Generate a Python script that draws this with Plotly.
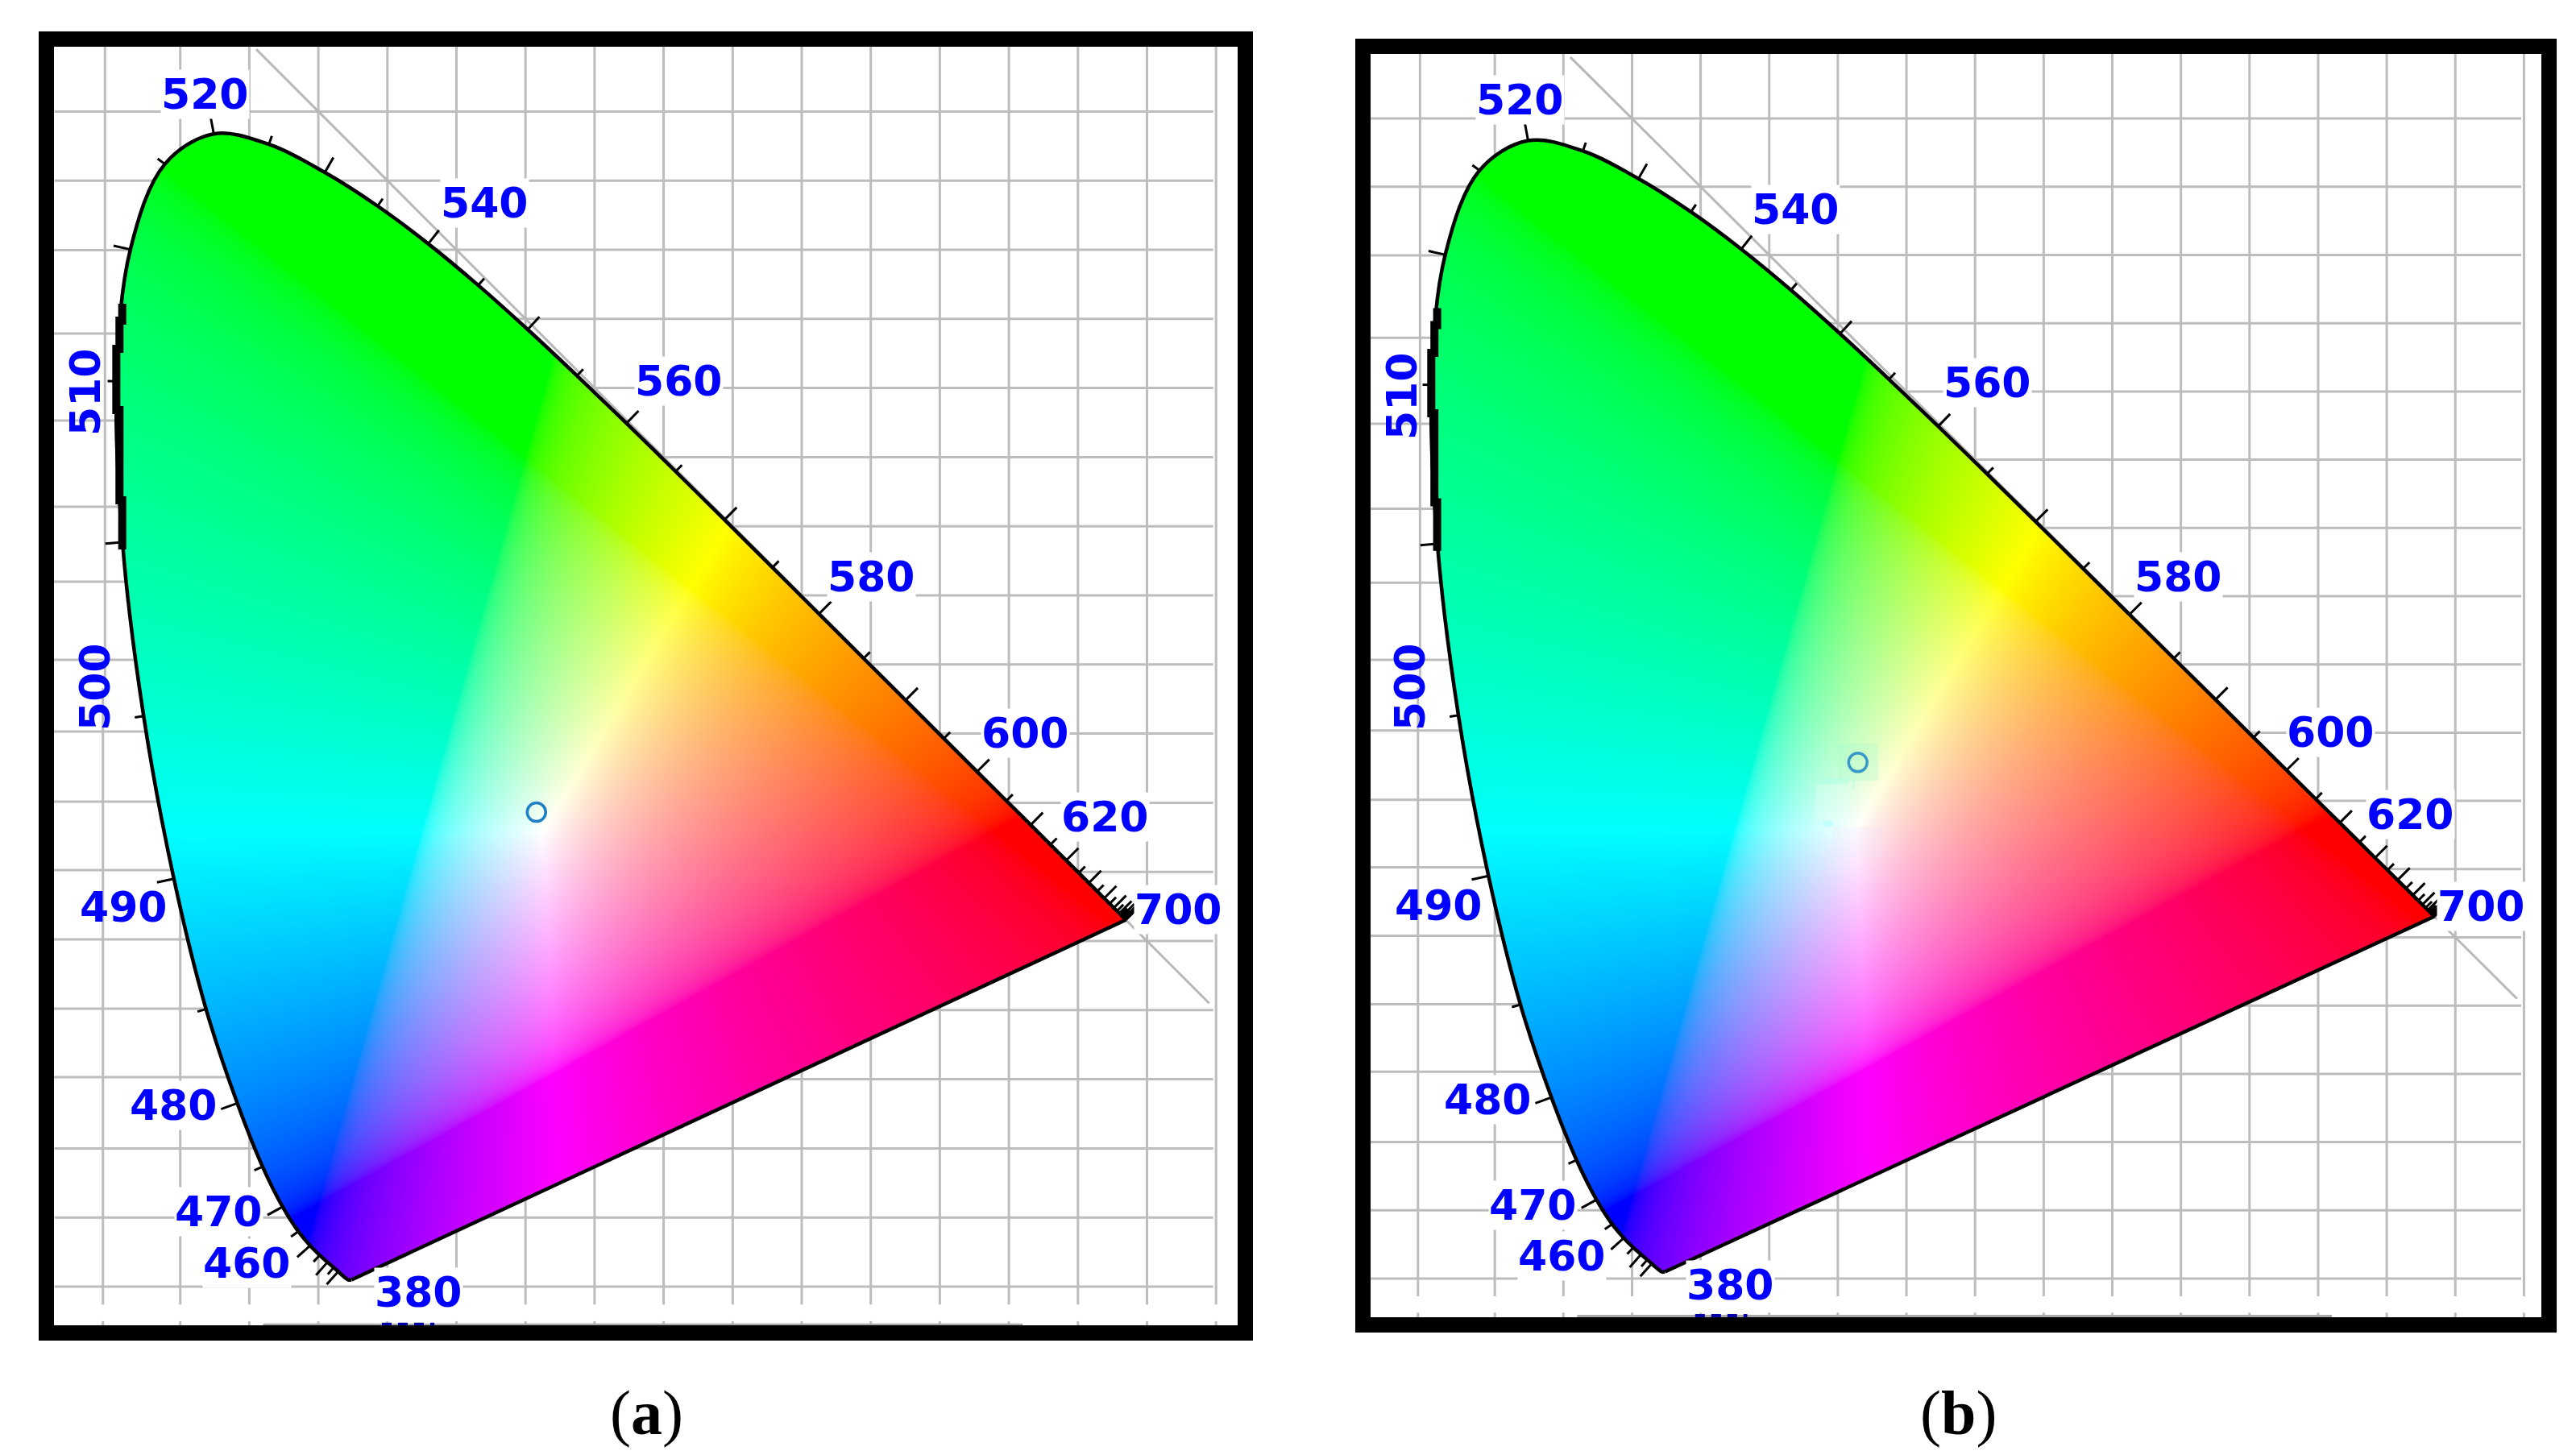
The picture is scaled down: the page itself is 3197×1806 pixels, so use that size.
import base64
import struct
import zlib

import numpy as np
import plotly.graph_objects as go

W = 3197
H = 1806

# spectral locus
WAVELENGTHS = list(range(380, 705, 5))
LOCUS_X = [.1741, .1740, .1738, .1736, .1733, .1730, .1726, .1721, .1714, .1703, .1689, .1669, .1644,
           .1611, .1566, .1510, .1440, .1355, .1241, .1096, .0913, .0687, .0454, .0235, .0082, .0039,
           .0139, .0389, .0743, .1142, .1547, .1929, .2296, .2658, .3016, .3373, .3731, .4087, .4441,
           .4788, .5125, .5448, .5752, .6029, .6270, .6482, .6658, .6801, .6915, .7006, .7079, .7140,
           .7190, .7230, .7260, .7283, .7300, .7311, .7320, .7327, .7334, .7340, .7344, .7346, .7347]
LOCUS_Y = [.0050, .0050, .0049, .0049, .0048, .0048, .0048, .0048, .0051, .0058, .0069, .0086, .0109,
           .0138, .0177, .0227, .0297, .0399, .0578, .0868, .1327, .2007, .2950, .4127, .5384, .6548,
           .7502, .8120, .8338, .8262, .8059, .7816, .7543, .7243, .6923, .6589, .6245, .5896, .5547,
           .5202, .4866, .4544, .4242, .3965, .3725, .3514, .3340, .3197, .3083, .2993, .2920, .2859,
           .2809, .2770, .2740, .2717, .2700, .2689, .2680, .2673, .2666, .2660, .2656, .2654, .2653]

# grid lines
GRID_X = [.05, .10, .15, .20, .25, .30, .35, .40, .45, .50, .55, .60, .65, .70, .75, .80]
GRID_Y_RIGHT = [.85, .80, .75, .70, .65, .60, .55, .50, .45, .40, .35, .30, .25, .20, .15, .10, .05, 0]
GRID_Y_LEFT = [.7497, .6894, .6264, .5641, .5099, .4534, .4015, .3508, .3013, .2512, .2010, .1515]

# stepped thick part of the locus around 505 nm
THICK_X = [.0080, .0060, .0037, .0060, .0080, .0080]
THICK_Y = [.7110, .6987, .6783, .6340, .5688, .5332]

POINT_X = {"a": .3079, "b": .3146}
POINT_Y = {"a": .3432, "b": .3782}

LABELS = ["520", "540", "560", "580", "600", "620", "700", "510", "500", "490", "480", "470", "460", "380"]
LABEL_X = {"a": [254, 601, 842, 1081, 1272, 1371, 1462, 106, 118, 153, 215, 271, 306, 519],
           "b": [1886, 2228, 2466, 2703, 2892, 2991, 3079, 1740, 1750, 1785, 1846, 1902, 1938, 2147]}
LABEL_Y = {"a": [117, 252, 473, 716, 910, 1014, 1129, 487, 853, 1126, 1372, 1504, 1568, 1604],
           "b": [124, 260, 475, 716, 909, 1011, 1125, 492, 853, 1124, 1365, 1496, 1559, 1595]}
ROTATED = ["510", "500"]
NO_MASK = ["510", "500", "490"]

# faint compression squares around the point in (b)
PATCH_X0 = [2281, 2253, 2260, 2263, 2299, 2274]
PATCH_X1 = [2331, 2295, 2295, 2274, 2302, 2337]
PATCH_Y0 = [923, 973, 966, 1019, 966, 1026]
PATCH_Y1 = [969, 1019, 973, 1026, 980, 1064]
PATCH_COLOR = ["rgba(150,245,200,.22)", "rgba(235,255,250,.25)", "rgba(170,255,235,.40)",
               "rgba(170,255,255,.50)", "rgba(170,250,220,.40)", "rgba(235,225,250,.18)"]

# pixel layout of the two panels: inner frame, position of (0,0), pixels per unit
PANELS = {
    "a": dict(left=67, right=1536, top=58, bottom=1645, x0=138, y0=1597, sx=1714, sy=1716, axes=("", "2", "3", "4")),
    "b": dict(left=1701, right=3154, top=67, bottom=1635, x0=1770, y0=1587, sx=1703, sy=1694, axes=("5", "6", "7", "8")),
}

SRGB = np.array([[3.2406, -1.5372, -0.4986], [-0.9689, 1.8758, 0.0415], [0.0557, -0.2040, 1.0570]])
GRID_COLOR = "#bdbdbd"
BLUE = "#0000ff"


def make_png(rgba):
    h, w, _ = rgba.shape
    raw = np.zeros((h, w * 4 + 1), dtype=np.uint8)
    raw[:, 1:] = rgba.reshape(h, w * 4)

    def chunk(tag, body):
        return struct.pack(">I", len(body)) + tag + body + struct.pack(">I", zlib.crc32(tag + body))

    data = (b"\x89PNG\r\n\x1a\n"
            + chunk(b"IHDR", struct.pack(">IIBBBBB", w, h, 8, 6, 0, 0, 0))
            + chunk(b"IDAT", zlib.compress(raw.tobytes(), 6))
            + chunk(b"IEND", b""))
    return "data:image/png;base64," + base64.b64encode(data).decode()


def mask_outline():
    # rounder outline for the colour mask only, so it follows the spline drawn on top
    x = np.array(LOCUS_X)
    y = np.array(LOCUS_Y)
    out_x, out_y = [], []
    for i in range(len(x) - 1):
        a = max(i - 1, 0)
        d = min(i + 2, len(x) - 1)
        for t in np.linspace(0, 1, 8, endpoint=False):
            for src, out in ((x, out_x), (y, out_y)):
                p0, p1, p2, p3 = src[a], src[i], src[i + 1], src[d]
                out.append(.5 * (2 * p1 + (p2 - p0) * t + (2 * p0 - 5 * p1 + 4 * p2 - p3) * t ** 2
                                 + (3 * p1 - p0 - 3 * p2 + p3) * t ** 3))
    out_x.append(x[-1])
    out_y.append(y[-1])
    return np.array(out_x), np.array(out_y)


def inside_locus(x, y):
    px, py = mask_outline()
    inside = np.zeros(x.shape, dtype=bool)
    for i in range(len(px)):
        x1, y1 = px[i], py[i]
        x2, y2 = px[i - 1], py[i - 1]
        if y1 == y2:
            continue
        low, high = min(y1, y2), max(y1, y2)
        rows = (y[:, 0] > low) & (y[:, 0] <= high)
        if not rows.any():
            continue
        inside[rows] ^= x[rows] < (x2 - x1) * (y[rows] - y1) / (y2 - y1) + x1
    return inside


def chromaticity_source(p):
    # one image pixel per screen pixel, bottom row first
    xs = np.arange(-.005, .745, 1 / p["sx"])
    ys = np.arange(-.005, .845, 1 / p["sy"])
    gx, gy = np.meshgrid(xs, ys)
    safe_y = np.maximum(gy, 1e-3)
    xyz = np.stack([gx / safe_y, np.ones_like(gx), (1 - gx - gy) / safe_y], axis=-1)
    rgb = np.clip(xyz @ SRGB.T, 0, None)
    rgb = rgb / np.maximum(rgb.max(axis=-1, keepdims=True), 1e-6)
    rgb = np.where(rgb <= .0031308, 12.92 * rgb, 1.055 * rgb ** (1 / 2.4) - .055)
    rgba = np.zeros(gx.shape + (4,), dtype=np.uint8)
    rgba[..., :3] = np.round(rgb * 255).astype(np.uint8)
    rgba[..., 3] = inside_locus(gx, gy) * 255
    return make_png(rgba), xs[0], ys[0], 1 / p["sx"], 1 / p["sy"]


def segments(pairs):
    xs, ys = [], []
    for (x1, y1), (x2, y2) in pairs:
        xs += [x1, x2, None]
        ys += [y1, y2, None]
    return xs, ys


def locus_ticks():
    x = np.array(LOCUS_X)
    y = np.array(LOCUS_Y)
    dx = np.gradient(x)
    dy = np.gradient(y)
    pairs = []
    for i, wl in enumerate(WAVELENGTHS):
        if wl < 440:
            continue
        norm = np.hypot(dx[i], dy[i]) or 1
        length = .0125 if wl % 10 == 0 else .0065
        pairs.append(((x[i], y[i]), (x[i] - dy[i] / norm * length, y[i] + dx[i] / norm * length)))
    return segments(pairs)


fig = go.Figure()
layout_axes = {}
annotations = []

for key, p in PANELS.items():
    ax_x, ax_y, over_x, over_y = p["axes"]
    x_range = [(p["left"] - p["x0"]) / p["sx"], (p["right"] - p["x0"]) / p["sx"]]
    y_range = [(p["y0"] - p["bottom"]) / p["sy"], (p["y0"] - p["top"]) / p["sy"]]
    dom_x = [p["left"] / W, p["right"] / W]
    dom_y = [1 - p["bottom"] / H, 1 - p["top"] / H]
    frame = dict(showgrid=False, zeroline=False, showticklabels=False, ticks="", showline=True,
                 linecolor="black", linewidth=19, mirror=True, layer="below traces")
    plain = dict(showgrid=False, zeroline=False, showticklabels=False, ticks="", showline=False)
    layout_axes["xaxis" + ax_x] = dict(domain=dom_x, range=x_range, anchor="y" + ax_y, **frame)
    layout_axes["yaxis" + ax_y] = dict(domain=dom_y, range=y_range, anchor="x" + ax_x, **frame)
    layout_axes["xaxis" + over_x] = dict(domain=dom_x, range=x_range, anchor="y" + over_y, overlaying="x" + ax_x, **plain)
    layout_axes["yaxis" + over_y] = dict(domain=dom_y, range=y_range, anchor="x" + over_x, overlaying="y" + ax_y, **plain)

    # grid sits on the lower axes so the colour field covers it
    pairs = []
    for gx in GRID_X:
        pairs.append(((gx, .899), (gx, -.013)))
        pairs.append(((gx, -.025), (gx, -.032)))
    pairs.append(((-.0045, .899), (-.0045, .433)))
    pairs.append(((-.0060, .433), (-.0060, -.013)))
    pairs.append(((-.0060, -.025), (-.0060, -.032)))
    for gy in GRID_Y_RIGHT:
        start = -.041 if gy >= .8 or gy < .11 else .1
        pairs.append(((start, gy), (.798, gy)))
    for gy in GRID_Y_LEFT:
        pairs.append(((-.043, gy), (.1, gy)))
    gx_line, gy_line = segments(pairs)
    fig.add_trace(go.Scatter(x=gx_line, y=gy_line, mode="lines", line=dict(color=GRID_COLOR, width=3),
                             cliponaxis=False, hoverinfo="skip", showlegend=False,
                             xaxis="x" + ax_x, yaxis="y" + ax_y))
    # x + y = 1
    fig.add_trace(go.Scatter(x=[.105, .795], y=[.895, .205], mode="lines", line=dict(color="#b8b8b8", width=3),
                             hoverinfo="skip", showlegend=False, xaxis="x" + ax_x, yaxis="y" + ax_y))
    fig.add_trace(go.Scatter(x=[.11, .66], y=[-.0275, -.0275], mode="lines", line=dict(color="#a8a8a8", width=3),
                             cliponaxis=False, hoverinfo="skip", showlegend=False, xaxis="x" + ax_x, yaxis="y" + ax_y))
    # top of a label cut off by the frame
    fig.add_trace(go.Scatter(x=[.196, .234], y=[-.0272, -.0272], mode="lines",
                             line=dict(color="#0000a8", width=4, dash="12px,8px"),
                             cliponaxis=False, hoverinfo="skip", showlegend=False, xaxis="x" + ax_x, yaxis="y" + ax_y))

    source, img_x0, img_y0, img_dx, img_dy = chromaticity_source(p)
    fig.add_trace(go.Image(source=source, x0=img_x0, y0=img_y0, dx=img_dx, dy=img_dy, hoverinfo="skip",
                           xaxis="x" + over_x, yaxis="y" + over_y))

    tx, ty = locus_ticks()
    fig.add_trace(go.Scatter(x=tx, y=ty, mode="lines", line=dict(color="black", width=3), hoverinfo="skip",
                             showlegend=False, xaxis="x" + over_x, yaxis="y" + over_y))
    fig.add_trace(go.Scatter(x=LOCUS_X, y=LOCUS_Y, mode="lines",
                             line=dict(color="black", width=4.5, shape="spline", smoothing=1), hoverinfo="skip",
                             showlegend=False, xaxis="x" + over_x, yaxis="y" + over_y))
    # line of purples
    fig.add_trace(go.Scatter(x=[LOCUS_X[-1], LOCUS_X[0]], y=[LOCUS_Y[-1], LOCUS_Y[0]], mode="lines",
                             line=dict(color="black", width=4.5), hoverinfo="skip",
                             showlegend=False, xaxis="x" + over_x, yaxis="y" + over_y))
    fig.add_trace(go.Scatter(x=THICK_X, y=THICK_Y, mode="lines", line=dict(color="black", width=10, shape="vh"),
                             hoverinfo="skip", showlegend=False, xaxis="x" + over_x, yaxis="y" + over_y))
    fig.add_trace(go.Scatter(x=[POINT_X[key]], y=[POINT_Y[key]], mode="markers",
                             marker=dict(symbol="circle-open", size=23, color="#1f7fc6", line=dict(width=3.5)),
                             hoverinfo="skip", showlegend=False, xaxis="x" + over_x, yaxis="y" + over_y))

    for text, lx, ly in zip(LABELS, LABEL_X[key], LABEL_Y[key]):
        annotations.append(dict(x=lx / W, y=1 - ly / H, xref="paper", yref="paper", text="<b>" + text + "</b>",
                                showarrow=False, xanchor="center", yanchor="middle", borderpad=0,
                                textangle=-90 if text in ROTATED else 0,
                                bgcolor=None if text in NO_MASK else "white",
                                font=dict(family="DejaVu Sans", size=52, color=BLUE)))

for caption, cx in (("a", 802), ("b", 2430)):
    annotations.append(dict(x=cx / W, y=1 - 1753 / H, xref="paper", yref="paper", text="(<b>" + caption + "</b>)",
                            showarrow=False, xanchor="center", yanchor="middle",
                            font=dict(family="Liberation Serif", size=78, color="black")))

shapes = []
for x0, x1, y0, y1, color in zip(PATCH_X0, PATCH_X1, PATCH_Y0, PATCH_Y1, PATCH_COLOR):
    shapes.append(dict(type="rect", xref="paper", yref="paper", x0=x0 / W, x1=x1 / W, y0=1 - y1 / H, y1=1 - y0 / H,
                       fillcolor=color, line=dict(width=0), layer="above"))

fig.update_layout(width=W, height=H, autosize=False, margin=dict(l=0, r=0, t=0, b=0, pad=0),
                  paper_bgcolor="white", plot_bgcolor="white", showlegend=False,
                  annotations=annotations, shapes=shapes, **layout_axes)

fig.write_html("out.html", config=dict(displayModeBar=False), post_script="document.body.style.margin='0';")
